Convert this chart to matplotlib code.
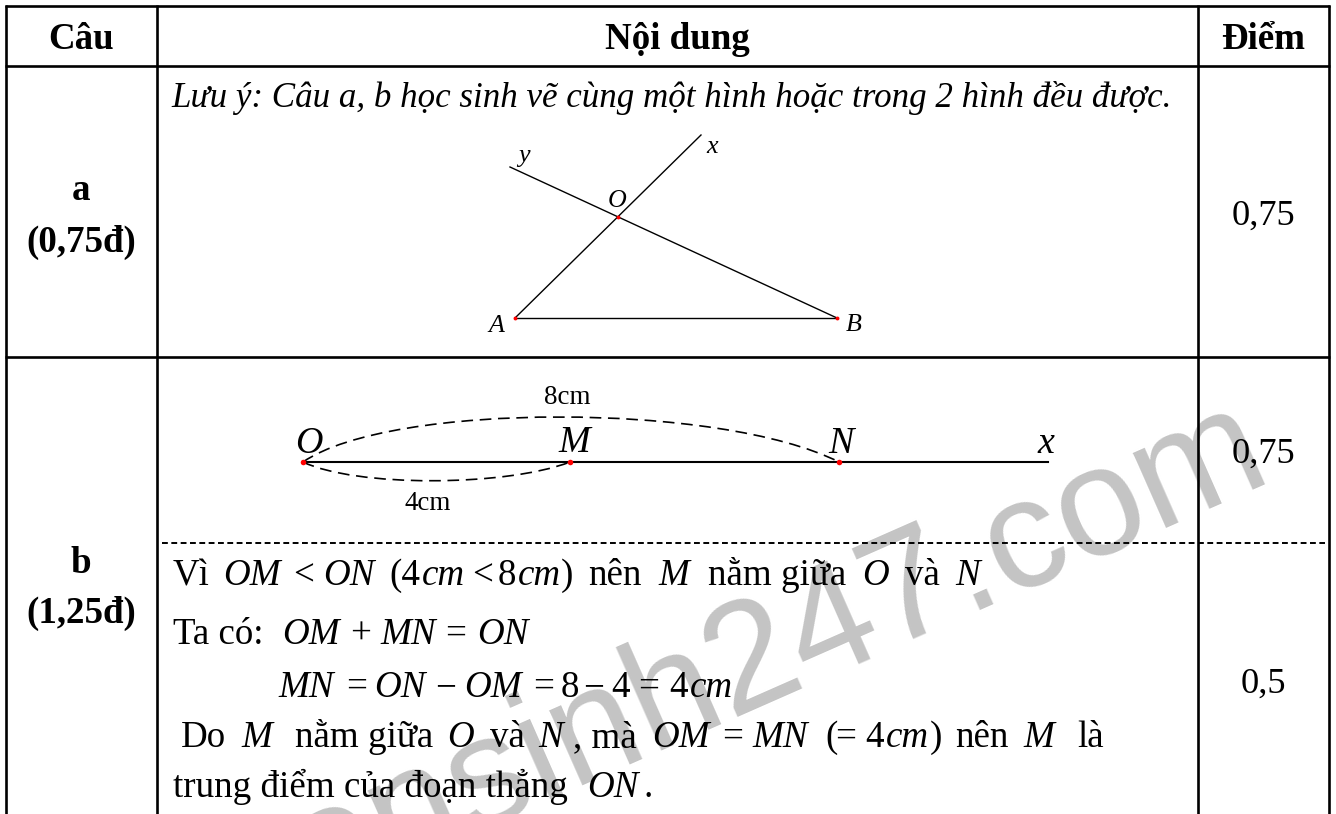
import matplotlib
matplotlib.use("Agg")
import matplotlib.pyplot as plt
from matplotlib.path import Path
from matplotlib.patches import PathPatch

SERIF = "Liberation Serif"
R, I = "r", "i"

header = [("Câu", 81), ("Nội dung", 677), ("Điểm", 1263)]
col_lines = [6, 157, 1198, 1329]
row_lines = [6, 66, 357]
dash_y = 543
dash_span = (162, 1325)

left_cells = [("a", 200), ("(0,75đ)", 252), ("b", 573), ("(1,25đ)", 623)]
score_cells = [("0,75", 225), ("0,75", 463), ("0,5", 693)]
note = "Lưu ý: Câu a, b học sinh vẽ cùng một hình hoặc trong 2 hình đều được."

tri_pts = dict(A=(515, 318), B=(837, 318), O=(618, 217), x=(701, 135), y=(510, 167))
tri_labels = [("y", 518, 162), ("x", 706, 153), ("O", 608, 207), ("A", 488, 332), ("B", 846, 331)]

seg_pts = dict(O=(303, 462), M=(570, 462), N=(839, 462), x=(1048, 462))
seg_labels = [("O", 295, 453), ("M", 558, 452), ("N", 828, 453), ("x", 1037, 453)]
arc_top_ctrl = [(390, 402), (720, 402)]
arc_low_ctrl = [(355, 487), (505, 487)]
dim_labels = [("8cm", 567, 398), ("4cm", 428, 503)]

lines = [
    (585, [(173, "Vì", R), (223, "OM", I), (293, "<", R), (323, "ON", I), (389, "(4", R), (422, "cm", I),
           (472, "<", R), (498, "8", R), (518, "cm", I), (561, ")", R), (588, "nên", R), (658, "M", I),
           (708, "nằm giữa", R), (862, "O", I), (905, "và", R), (955, "N", I)]),
    (644, [(173, "Ta có:", R), (282, "OM", I), (350, "+", R), (380, "MN", I), (445, "=", R), (477, "ON", I)]),
    (697, [(278, "MN", I), (346, "=", R), (374, "ON", I), (435, "−", R), (464, "OM", I), (533, "=", R),
           (561, "8", R), (583, "−", R), (611, "4", R), (638, "=", R), (669, "4", R), (690, "cm", I)]),
    (747, [(181, "Do", R), (241, "M", I), (295, "nằm giữa", R), (447, "O", I), (490, "và", R), (538, "N", I),
           (573, ", mà", R), (652, "OM", I), (722, "=", R), (752, "MN", I), (825, "(", R), (835, "=", R),
           (865, "4", R), (886, "cm", I), (930, ")", R), (955, "nên", R), (1023, "M", I), (1077, "là", R)]),
    (797, [(173, "trung điểm của đoạn thẳng", R), (587, "ON", I), (643, ".", R)]),
]

watermark = "tuyensinh247.com"

fig = plt.figure(figsize=(13.36, 8.14), dpi=100, facecolor="white")
ax = fig.add_axes([0, 0, 1, 1])
ax.set_xlim(0, 1336)
ax.set_ylim(814, 0)
ax.axis("off")

PX = 72 / 100
BODY = 37 * PX

ax.text(1275, 478.5, watermark, family="Liberation Sans", fontsize=155 * PX, color="#c4c4c4",
        rotation=23.8, rotation_mode="anchor", ha="right", va="baseline", zorder=1)

for x in col_lines:
    ax.plot([x, x], [5, 814], color="black", lw=1.9, zorder=3, solid_capstyle="butt")
for y in row_lines:
    ax.plot([5, 1330], [y, y], color="black", lw=1.9, zorder=3, solid_capstyle="butt")
ax.plot(dash_span, [dash_y, dash_y], color="black", lw=1.4, ls=(0, (3, 1.8)), zorder=3)

for s, x in header:
    ax.text(x, 49, s, family=SERIF, weight="bold", fontsize=BODY, ha="center", va="baseline", zorder=4)
for s, y in left_cells:
    ax.text(81, y, s, family=SERIF, weight="bold", fontsize=BODY, ha="center", va="baseline", zorder=4)
for s, y in score_cells:
    ax.text(1263, y, s, family=SERIF, fontsize=36.5 * PX, ha="center", va="baseline", zorder=4)
ax.text(672, 107, note, family=SERIF, style="italic", fontsize=35 * PX, ha="center", va="baseline", zorder=4)

for a, b in [("A", "x"), ("A", "B"), ("y", "B")]:
    ax.plot(*zip(tri_pts[a], tri_pts[b]), color="black", lw=1.0, zorder=3)
for k in ("A", "B", "O"):
    ax.plot(*tri_pts[k], "o", color="red", ms=2.8, mew=0, zorder=4)
for s, x, y in tri_labels:
    ax.text(x, y, s, family=SERIF, style="italic", fontsize=26 * PX, va="baseline", zorder=4)

ax.plot(*zip(seg_pts["O"], seg_pts["x"]), color="black", lw=1.5, zorder=3)
for end, ctrl in ((seg_pts["N"], arc_top_ctrl), (seg_pts["M"], arc_low_ctrl)):
    path = Path([seg_pts["O"], ctrl[0], ctrl[1], end], [Path.MOVETO, Path.CURVE4, Path.CURVE4, Path.CURVE4])
    ax.add_patch(PathPatch(path, fill=False, ec="black", lw=1.2, ls=(0, (7, 4)), zorder=3))
for k in ("O", "M", "N"):
    ax.plot(*seg_pts[k], "o", color="red", ms=4, mew=0, zorder=4)
for s, x, y in seg_labels:
    ax.text(x, y, s, family=SERIF, style="italic", fontsize=38 * PX, va="baseline", zorder=4)
for s, x, y in dim_labels:
    ax.text(x, y, s, family=SERIF, fontsize=27 * PX, ha="center", va="center", zorder=4)

for y, runs in lines:
    for x, s, st in runs:
        ax.text(x, y, s, family=SERIF, style="italic" if st == I else "normal", fontsize=BODY,
                va="baseline", zorder=4)

fig.savefig("out.png", dpi=100, facecolor="white")
